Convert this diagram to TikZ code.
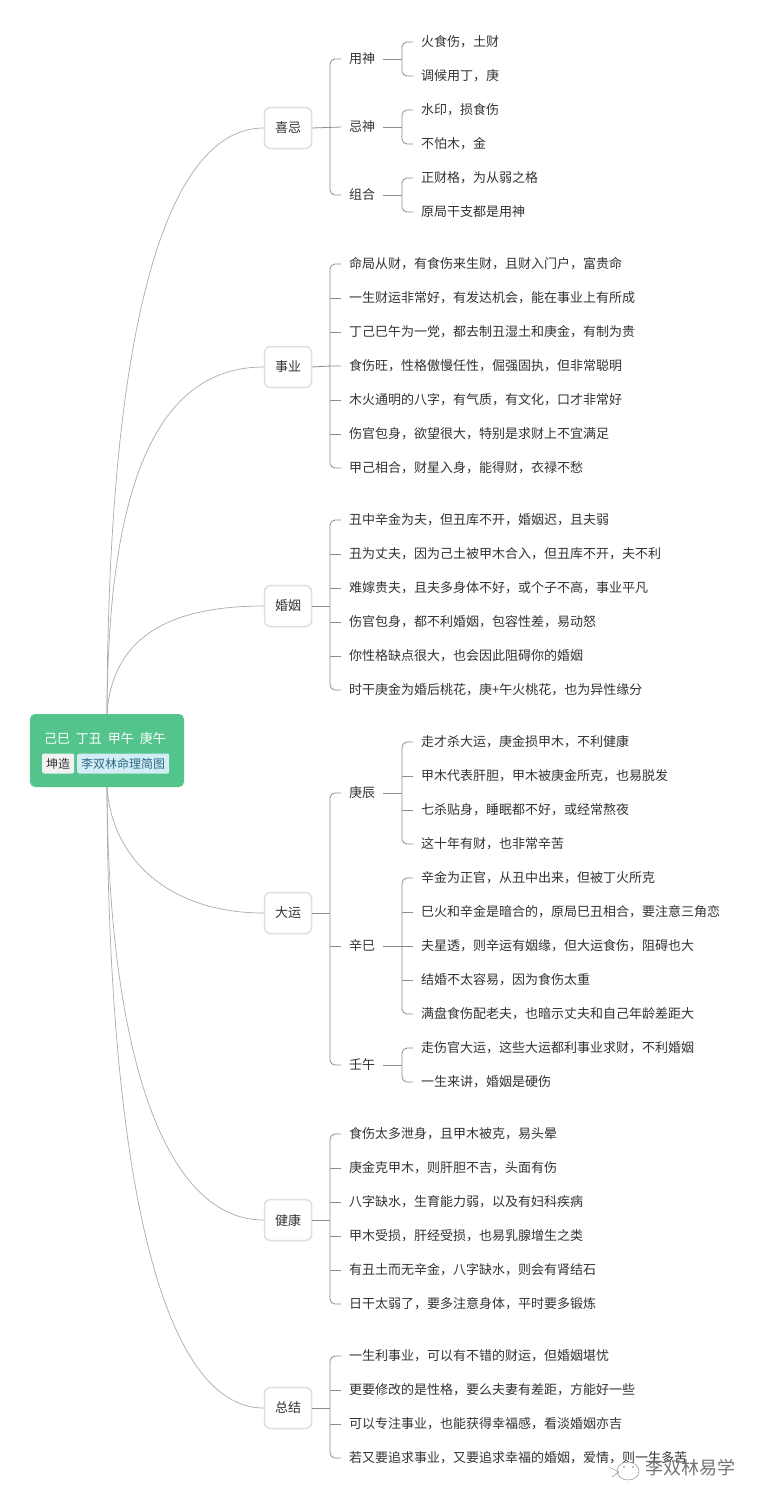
\documentclass[tikz,border=0pt]{standalone}
\usepackage{fontspec}
\setmainfont{Noto Sans CJK SC}
\definecolor{rootgreen}{HTML}{52C48C}
\definecolor{tagblue}{HTML}{D3EDF5}
\definecolor{tagink}{HTML}{2B6A85}
\definecolor{tagpale}{HTML}{F2F2F2}
\definecolor{inkgrey}{HTML}{333333}
\definecolor{edgegrey}{HTML}{DFDFDF}
\definecolor{limbgrey}{HTML}{8C8C8C}
\definecolor{curvegrey}{HTML}{ABABAB}
\tikzset{
  rootbox/.style={fill=rootgreen, rounded corners=5pt, minimum width=154pt, minimum height=73pt, inner sep=0pt},
  title/.style={text=white, inner sep=0pt, font=\fontsize{13}{13}\selectfont},
  tagbox/.style={rounded corners=2pt, inner xsep=4pt, inner ysep=0pt, minimum height=20pt, anchor=west, font=\fontsize{12}{12}\selectfont},
  topic/.style={draw=edgegrey, line width=1.5pt, fill=white, rounded corners=6pt, minimum width=47pt, minimum height=41pt, inner sep=0pt, text=inkgrey, font=\fontsize{13}{13}\selectfont},
  leaf/.style={anchor=west, inner xsep=8pt, inner ysep=0pt, text height=11pt, text depth=1.2pt, text=inkgrey, font=\fontsize{13}{13}\selectfont},
  limb/.style={draw=limbgrey, line width=0.8pt, rounded corners=5pt},
  curve/.style={draw=curvegrey, line width=0.7pt}
}
\begin{document}
\begin{tikzpicture}[x=1pt,y=-1pt]
\useasboundingbox[fill=white] (0,0) rectangle (759,1502);

\node[rootbox] (root) at (107,750.5) {};
\node[title] (roottitle) at (105,739) {己巳\hspace{6pt}丁丑\hspace{6pt}甲午\hspace{6pt}庚午};
\node[tagbox, fill=tagpale, text=inkgrey] (tagkun) at (42,763.5) {坤造};
\node[tagbox, fill=tagblue, text=tagink] (tagname) at (77,763.5) {李双林命理简图};

\node[topic] (xiji) at (288,128) {喜忌};
\node[topic] (shiye) at (288,367) {事业};
\node[topic] (hunyin) at (288,606) {婚姻};
\node[topic] (dayun) at (288,913) {大运};
\node[topic] (jiankang) at (288,1220) {健康};
\node[topic] (zongjie) at (288,1408) {总结};

% curves out of the root
\draw[curve] (root.north) .. controls (108,330) and (165,128) .. (xiji.west);
\draw[curve] (root.north) .. controls (108,500) and (150,367) .. (shiye.west);
\draw[curve] (root.north) .. controls (112,640) and (165,606) .. (hunyin.west);
\draw[curve] (root.south) .. controls (112,860) and (170,913) .. (dayun.west);
\draw[curve] (root.south) .. controls (108,1040) and (160,1220) .. (jiankang.west);
\draw[curve] (root.south) .. controls (108,1170) and (160,1408) .. (zongjie.west);

% xiji
\node[leaf] (yongshen) at (341,59) {用神};
\node[leaf] (jishen) at (341,127) {忌神};
\node[leaf] (zuhe) at (341,195) {组合};
\node[leaf] (yong1) at (413,42) {火食伤，土财};
\node[leaf] (yong2) at (413,76) {调候用丁，庚};
\node[leaf] (ji1) at (413,110) {水印，损食伤};
\node[leaf] (ji2) at (413,144) {不怕木，金};
\node[leaf] (zu1) at (413,178) {正财格，为从弱之格};
\node[leaf] (zu2) at (413,212) {原局干支都是用神};
\coordinate (xijitrunk) at (330,128);
\coordinate (yongtrunk) at (402,59);
\coordinate (jitrunk) at (402,127);
\coordinate (zutrunk) at (402,195);
\draw[limb] (xiji.east) -- (jishen.west);
\draw[limb] (yongshen.west) -| (xijitrunk) |- (zuhe.west);
\draw[limb] (yong1.west) -| (yongtrunk) |- (yong2.west);
\draw[limb] (yongshen.east) -- (yongtrunk);
\draw[limb] (ji1.west) -| (jitrunk) |- (ji2.west);
\draw[limb] (jishen.east) -- (jitrunk);
\draw[limb] (zu1.west) -| (zutrunk) |- (zu2.west);
\draw[limb] (zuhe.east) -- (zutrunk);

% shiye
\node[leaf] (ye1) at (341,264) {命局从财，有食伤来生财，且财入门户，富贵命};
\node[leaf] (ye2) at (341,298) {一生财运非常好，有发达机会，能在事业上有所成};
\node[leaf] (ye3) at (341,332) {丁己巳午为一党，都去制丑湿土和庚金，有制为贵};
\node[leaf] (ye4) at (341,366) {食伤旺，性格傲慢任性，倔强固执，但非常聪明};
\node[leaf] (ye5) at (341,400) {木火通明的八字，有气质，有文化，口才非常好};
\node[leaf] (ye6) at (341,434) {伤官包身，欲望很大，特别是求财上不宜满足};
\node[leaf] (ye7) at (341,468) {甲己相合，财星入身，能得财，衣禄不愁};
\coordinate (yetrunk) at (330,367);
\draw[limb] (shiye.east) -- (yetrunk |- ye4.west) -- (ye4.west);
\draw[limb] (ye1.west) -| (yetrunk) |- (ye7.west);
\draw[limb] (yetrunk |- ye2.west) -- (ye2.west) (yetrunk |- ye3.west) -- (ye3.west) (yetrunk |- ye5.west) -- (ye5.west) (yetrunk |- ye6.west) -- (ye6.west);

% hunyin
\node[leaf] (hun1) at (341,520) {丑中辛金为夫，但丑库不开，婚姻迟，且夫弱};
\node[leaf] (hun2) at (341,554) {丑为丈夫，因为己土被甲木合入，但丑库不开，夫不利};
\node[leaf] (hun3) at (341,588) {难嫁贵夫，且夫多身体不好，或个子不高，事业平凡};
\node[leaf] (hun4) at (341,622) {伤官包身，都不利婚姻，包容性差，易动怒};
\node[leaf] (hun5) at (341,656) {你性格缺点很大，也会因此阻碍你的婚姻};
\node[leaf] (hun6) at (341,690) {时干庚金为婚后桃花，庚+午火桃花，也为异性缘分};
\coordinate (huntrunk) at (330,606);
\draw[limb] (hunyin.east) -- (huntrunk);
\draw[limb] (hun1.west) -| (huntrunk) |- (hun6.west);
\draw[limb] (huntrunk |- hun2.west) -- (hun2.west) (huntrunk |- hun3.west) -- (hun3.west) (huntrunk |- hun4.west) -- (hun4.west) (huntrunk |- hun5.west) -- (hun5.west);

% dayun
\node[leaf] (gengchen) at (341,793) {庚辰};
\node[leaf] (xinsi) at (341,946) {辛巳};
\node[leaf] (renwu) at (341,1065) {壬午};
\node[leaf] (geng1) at (413,742) {走才杀大运，庚金损甲木，不利健康};
\node[leaf] (geng2) at (413,776) {甲木代表肝胆，甲木被庚金所克，也易脱发};
\node[leaf] (geng3) at (413,810) {七杀贴身，睡眠都不好，或经常熬夜};
\node[leaf] (geng4) at (413,844) {这十年有财，也非常辛苦};
\node[leaf] (xin1) at (413,878) {辛金为正官，从丑中出来，但被丁火所克};
\node[leaf] (xin2) at (413,912) {巳火和辛金是暗合的，原局巳丑相合，要注意三角恋};
\node[leaf] (xin3) at (413,946) {夫星透，则辛运有姻缘，但大运食伤，阻碍也大};
\node[leaf] (xin4) at (413,980) {结婚不太容易，因为食伤太重};
\node[leaf] (xin5) at (413,1014) {满盘食伤配老夫，也暗示丈夫和自己年龄差距大};
\node[leaf] (ren1) at (413,1048) {走伤官大运，这些大运都利事业求财，不利婚姻};
\node[leaf] (ren2) at (413,1082) {一生来讲，婚姻是硬伤};
\coordinate (yuntrunk) at (330,913);
\coordinate (gengtrunk) at (402,793);
\coordinate (xintrunk) at (402,946);
\coordinate (rentrunk) at (402,1065);
\draw[limb] (dayun.east) -- (yuntrunk);
\draw[limb] (gengchen.west) -| (yuntrunk) |- (renwu.west);
\draw[limb] (yuntrunk |- xinsi.west) -- (xinsi.west);
\draw[limb] (gengchen.east) -- (gengtrunk);
\draw[limb] (geng1.west) -| (gengtrunk) |- (geng4.west);
\draw[limb] (gengtrunk |- geng2.west) -- (geng2.west) (gengtrunk |- geng3.west) -- (geng3.west);
\draw[limb] (xinsi.east) -- (xin3.west);
\draw[limb] (xin1.west) -| (xintrunk) |- (xin5.west);
\draw[limb] (xintrunk |- xin2.west) -- (xin2.west) (xintrunk |- xin4.west) -- (xin4.west);
\draw[limb] (renwu.east) -- (rentrunk);
\draw[limb] (ren1.west) -| (rentrunk) |- (ren2.west);

% jiankang
\node[leaf] (jian1) at (341,1134) {食伤太多泄身，且甲木被克，易头晕};
\node[leaf] (jian2) at (341,1168) {庚金克甲木，则肝胆不吉，头面有伤};
\node[leaf] (jian3) at (341,1202) {八字缺水，生育能力弱，以及有妇科疾病};
\node[leaf] (jian4) at (341,1236) {甲木受损，肝经受损，也易乳腺增生之类};
\node[leaf] (jian5) at (341,1270) {有丑土而无辛金，八字缺水，则会有肾结石};
\node[leaf] (jian6) at (341,1304) {日干太弱了，要多注意身体，平时要多锻炼};
\coordinate (jiantrunk) at (330,1220);
\draw[limb] (jiankang.east) -- (jiantrunk);
\draw[limb] (jian1.west) -| (jiantrunk) |- (jian6.west);
\draw[limb] (jiantrunk |- jian2.west) -- (jian2.west) (jiantrunk |- jian3.west) -- (jian3.west) (jiantrunk |- jian4.west) -- (jian4.west) (jiantrunk |- jian5.west) -- (jian5.west);

% zongjie
\node[leaf] (zong1) at (341,1356) {一生利事业，可以有不错的财运，但婚姻堪忧};
\node[leaf] (zong2) at (341,1390) {更要修改的是性格，要么夫妻有差距，方能好一些};
\node[leaf] (zong3) at (341,1424) {可以专注事业，也能获得幸福感，看淡婚姻亦吉};
\node[leaf] (zong4) at (341,1458) {若又要追求事业，又要追求幸福的婚姻，爱情，则一生多苦};
\coordinate (zongtrunk) at (330,1408);
\draw[limb] (zongjie.east) -- (zongtrunk);
\draw[limb] (zong1.west) -| (zongtrunk) |- (zong4.west);
\draw[limb] (zongtrunk |- zong2.west) -- (zong2.west) (zongtrunk |- zong3.west) -- (zong3.west);

% watermark
\draw[line width=0.4pt, draw=gray, fill=white] (628,1471) ellipse (11pt and 9pt);
\fill[gray] (624,1467) circle (0.8pt) (633,1467) circle (0.8pt) (613,1461) circle (0.8pt);
\draw[line width=0.4pt, gray] (609,1467) -- (619,1472) -- (612,1477);
\node[inner sep=0pt, text=black!55, font=\fontsize{18}{18}\selectfont] (mark) at (690,1468) {李双林易学};
\end{tikzpicture}
\end{document}
